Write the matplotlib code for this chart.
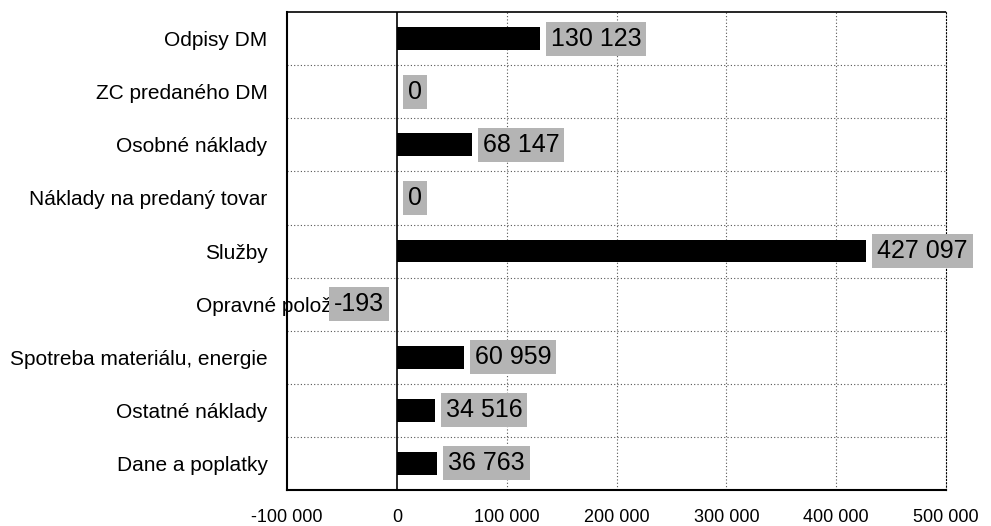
import matplotlib.pyplot as plt
import matplotlib.transforms as mtransforms
from matplotlib.ticker import FuncFormatter

categories = ['Odpisy DM', 'ZC predaného DM', 'Osobné náklady', 'Náklady na predaný tovar',
              'Služby', 'Opravné položky', 'Spotreba materiálu, energie', 'Ostatné náklady',
              'Dane a poplatky']
values = [130123, 0, 68147, 0, 427097, -193, 60959, 34516, 36763]
x_ticks = [-100000, 0, 100000, 200000, 300000, 400000, 500000]

plt.rcParams['font.family'] = ['Liberation Sans', 'DejaVu Sans']


def fmt(v):
    return '{:,}'.format(int(v)).replace(',', ' ')


fig = plt.figure(figsize=(9.91, 5.26), dpi=100)
ax = fig.add_axes([0.2896, 0.0684, 0.665, 0.9086])

ypos = list(range(len(categories)))
ax.barh(ypos, values, height=0.43, color='black', zorder=3)
ax.set_ylim(len(categories) - 0.5, -0.5)
ax.set_xlim(-100000, 500000)
ax.set_xticks(x_ticks)
ax.xaxis.set_major_formatter(FuncFormatter(lambda v, p: fmt(v)))
ax.set_yticks(ypos)
ax.set_yticklabels(categories, fontsize=15)
ax.tick_params(axis='x', labelsize=13, length=0, pad=14)
ax.tick_params(axis='y', length=0, pad=14)

# the "Opravné položky" label sits further right in the original, under the value box
lab = ax.get_yticklabels()[5]
lab.set_transform(lab.get_transform() + mtransforms.ScaledTranslation(0.85, 0, fig.dpi_scale_trans))

# dotted grid
for x in x_ticks[2:-1]:
    ax.axvline(x, color='#555555', lw=0.8, ls=(0, (1, 2)), zorder=1)
for y in range(len(categories) - 1):
    ax.axhline(y + 0.5, color='#555555', lw=0.8, ls=(0, (1, 2)), zorder=1)
ax.axvline(0, color='black', lw=1.2, zorder=4)

ax.spines['left'].set_linewidth(1.5)
ax.spines['bottom'].set_linewidth(1.5)
ax.spines['top'].set_linewidth(1.2)
ax.spines['top'].set_linestyle((0, (1, 1)))
ax.spines['right'].set_linewidth(0.8)
ax.spines['right'].set_linestyle((0, (1, 2)))

for y, v in zip(ypos, values):
    box = dict(boxstyle='square,pad=0.2', fc='#b4b4b4', ec='none')
    if v < 0:
        ax.annotate(fmt(v), xy=(v, y), xytext=(-9, 0), textcoords='offset points',
                    ha='right', va='center', fontsize=18, bbox=box, zorder=5)
    else:
        ax.annotate(fmt(v), xy=(v, y), xytext=(8, 0), textcoords='offset points',
                    ha='left', va='center', fontsize=18, bbox=box, zorder=5)

fig.savefig('out.png', dpi=100)
